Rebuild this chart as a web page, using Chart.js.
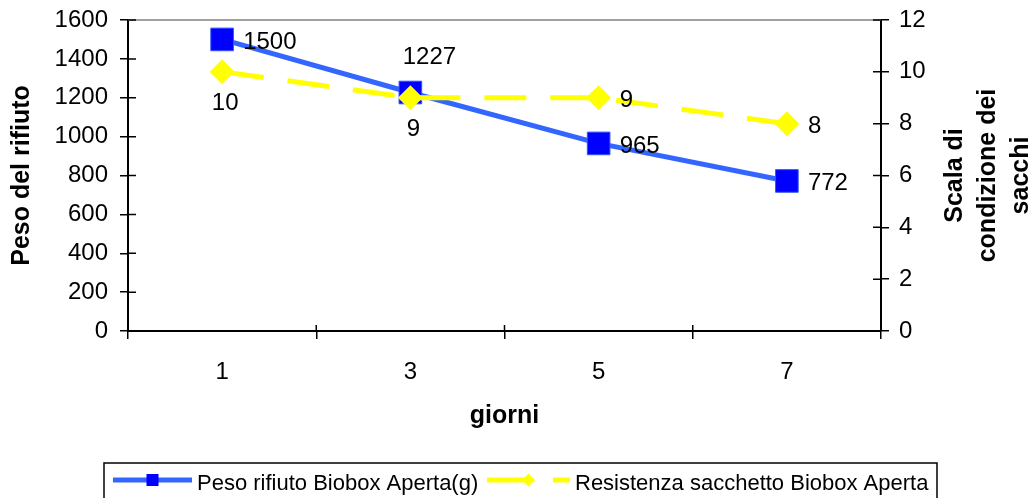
<!DOCTYPE html>
<html lang="it">

<head>
    <meta charset="UTF-8">
    <title>Peso rifiuto e resistenza sacchetto - Biobox Aperta</title>
    <script src="https://cdn.jsdelivr.net/npm/chart.js"></script>
    <style>
        html, body { margin: 0; padding: 0; background: #fff; }
        #wrap { width: 1036px; height: 498px; }
    </style>
</head>

<body>
    <div id="wrap"><canvas id="chart"></canvas></div>

    <script>
        // data
        const giorni = ['1', '3', '5', '7'];
        const pesoRifiuto = [1500, 1227, 965, 772];
        const resistenza = [10, 9, 9, 8];

        // where each value label sits next to its point
        const posPeso = ['right', 'above', 'right', 'right'];
        const posResistenza = ['below', 'below', 'right', 'right'];

        const FONT = "'Liberation Sans', Arial, sans-serif";
        const labelOffsets = {
            right: { dx: 21, dy: 2.5, align: 'left' },
            above: { dx: 19, dy: -35, align: 'center' },
            below: { dx: 3, dy: 32, align: 'center' }
        };

        // value labels (Excel style)
        const valueLabels = {
            id: 'valueLabels',
            afterDatasetsDraw(chart) {
                const ctx = chart.ctx;
                ctx.save();
                ctx.font = '24px ' + FONT;
                ctx.fillStyle = '#000';
                ctx.textBaseline = 'middle';
                chart.data.datasets.forEach((ds, i) => {
                    const meta = chart.getDatasetMeta(i);
                    meta.data.forEach((pt, j) => {
                        const o = labelOffsets[ds.labelPos[j]];
                        ctx.textAlign = o.align;
                        ctx.fillText(String(ds.data[j]), pt.x + o.dx, pt.y + o.dy);
                    });
                });
                ctx.restore();
            }
        };

        // top frame line, inner halves of the tick marks, right title, legend box
        const frame = {
            id: 'frame',
            beforeDatasetsDraw(chart) {
                const { ctx, chartArea: a, scales } = chart;
                ctx.save();
                ctx.strokeStyle = '#a0a0a0';
                ctx.lineWidth = 2;
                ctx.beginPath();
                ctx.moveTo(a.left, a.top);
                ctx.lineTo(a.right, a.top);
                ctx.stroke();

                ctx.strokeStyle = '#000';
                ctx.lineWidth = 1.5;
                ctx.beginPath();
                scales.y.ticks.forEach(t => {
                    const y = scales.y.getPixelForValue(t.value);
                    ctx.moveTo(a.left, y);
                    ctx.lineTo(a.left + 8, y);
                });
                scales.y1.ticks.forEach(t => {
                    const y = scales.y1.getPixelForValue(t.value);
                    ctx.moveTo(a.right, y);
                    ctx.lineTo(a.right - 8, y);
                });
                const n = giorni.length;
                for (let i = 1; i < n; i++) {
                    const x = a.left + i * (a.right - a.left) / n;
                    ctx.moveTo(x, a.bottom);
                    ctx.lineTo(x, a.bottom - 6);
                }
                ctx.stroke();
                ctx.restore();
            },
            afterDraw(chart) {
                const { ctx, chartArea: a } = chart;
                ctx.save();

                // right axis title, three lines reading bottom to top
                const cy = (a.top + a.bottom) / 2;
                ctx.font = 'bold 25px ' + FONT;
                ctx.fillStyle = '#000';
                ctx.textAlign = 'center';
                ctx.textBaseline = 'middle';
                ['Scala di', 'condizione dei', 'sacchi'].forEach((line, i) => {
                    ctx.save();
                    ctx.translate(955 + i * 33, cy);
                    ctx.rotate(-Math.PI / 2);
                    ctx.fillText(line, 0, 0);
                    ctx.restore();
                });

                // legend
                ctx.strokeStyle = '#000';
                ctx.lineWidth = 1.5;
                ctx.strokeRect(104, 463, 833, 45);

                ctx.lineWidth = 5;
                ctx.strokeStyle = '#3366ff';
                ctx.beginPath();
                ctx.moveTo(113, 480);
                ctx.lineTo(192, 480);
                ctx.stroke();
                ctx.fillStyle = '#0000ff';
                ctx.fillRect(146.5, 474, 12, 12);

                ctx.strokeStyle = '#ffff00';
                ctx.setLineDash([43, 23]);
                ctx.beginPath();
                ctx.moveTo(487, 480);
                ctx.lineTo(570, 480);
                ctx.stroke();
                ctx.setLineDash([]);
                ctx.fillStyle = '#ffff00';
                ctx.beginPath();
                ctx.moveTo(522, 480);
                ctx.lineTo(528.5, 473.5);
                ctx.lineTo(535, 480);
                ctx.lineTo(528.5, 486.5);
                ctx.closePath();
                ctx.fill();

                ctx.font = '22px ' + FONT;
                ctx.fillStyle = '#000';
                ctx.textAlign = 'left';
                ctx.fillText('Peso rifiuto Biobox Aperta(g)', 197, 484);
                ctx.fillText('Resistenza sacchetto Biobox Aperta', 575, 484);
                ctx.restore();
            }
        };

        const tickFont = { family: FONT, size: 24 };
        const titleFont = { family: FONT, size: 25, weight: 'bold', lineHeight: 1 };
        const plain = v => String(v);

        new Chart(document.getElementById('chart'), {
            type: 'line',
            data: {
                labels: giorni,
                datasets: [
                    {
                        label: 'Peso rifiuto Biobox Aperta(g)',
                        data: pesoRifiuto,
                        labelPos: posPeso,
                        yAxisID: 'y',
                        order: 1,
                        borderColor: '#3366ff',
                        borderWidth: 5,
                        pointStyle: 'rect',
                        pointRadius: 16,
                        pointHoverRadius: 16,
                        pointBackgroundColor: '#0000ff',
                        pointBorderColor: '#3355ff',
                        pointBorderWidth: 1,
                        tension: 0
                    },
                    {
                        label: 'Resistenza sacchetto Biobox Aperta',
                        data: resistenza,
                        labelPos: posResistenza,
                        yAxisID: 'y1',
                        order: 0,
                        borderColor: '#ffff00',
                        borderWidth: 5,
                        borderDash: [42, 24],
                        pointStyle: 'rectRot',
                        pointRadius: 12.5,
                        pointHoverRadius: 12.5,
                        pointBackgroundColor: '#ffff00',
                        pointBorderColor: '#ffff00',
                        pointBorderWidth: 0,
                        tension: 0
                    }
                ]
            },
            options: {
                responsive: true,
                maintainAspectRatio: false,
                animation: false,
                devicePixelRatio: 1,
                layout: { padding: { top: 20, bottom: 57, left: 0, right: 0 } },
                plugins: {
                    legend: { display: false },
                    tooltip: { enabled: false }
                },
                scales: {
                    x: {
                        offset: true,
                        grid: { offset: true, drawOnChartArea: false, tickLength: 8, color: '#000', lineWidth: 1.5 },
                        border: { color: '#000', width: 2 },
                        ticks: { padding: 19, font: tickFont, color: '#000' },
                        title: { display: true, text: 'giorni', font: titleFont, color: '#000', padding: { top: 0, bottom: 12.5 } },
                        afterFit(s) { s.height = 110; }
                    },
                    y: {
                        position: 'left',
                        min: 0,
                        max: 1600,
                        grid: { drawOnChartArea: false, tickLength: 8, color: '#000', lineWidth: 1.5 },
                        border: { color: '#000', width: 2 },
                        ticks: { stepSize: 200, padding: 12, font: tickFont, color: '#000', callback: plain },
                        title: { display: true, text: 'Peso del rifiuto', font: titleFont, color: '#000', padding: { top: 10, bottom: 0 } },
                        afterFit(s) { s.width = 128; s.paddingTop = 5; s.paddingBottom = 5; }
                    },
                    y1: {
                        position: 'right',
                        min: 0,
                        max: 12,
                        grid: { drawOnChartArea: false, tickLength: 8, color: '#000', lineWidth: 1.5 },
                        border: { color: '#000', width: 2 },
                        ticks: { stepSize: 2, padding: 10, font: tickFont, color: '#000', callback: plain },
                        afterFit(s) { s.width = 155; s.paddingTop = 5; s.paddingBottom = 5; }
                    }
                }
            },
            plugins: [frame, valueLabels]
        });
    </script>
</body>

</html>
